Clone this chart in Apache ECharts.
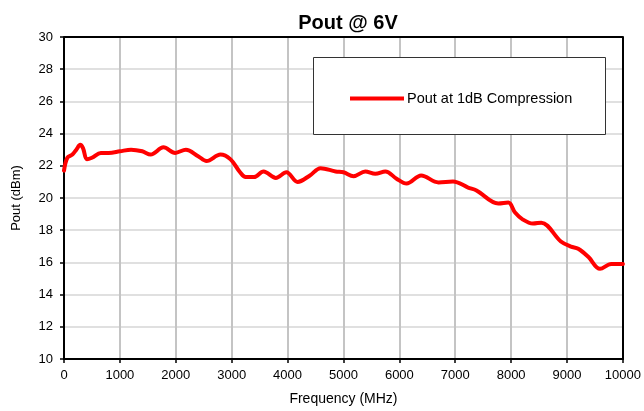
<!DOCTYPE html>
<html>
<head>
<meta charset="utf-8">
<script src="https://cdn.jsdelivr.net/npm/echarts@6/dist/echarts.min.js"></script>
<style>
    html, body { margin: 0; padding: 0; background: #fff; }
    #chart { width: 644px; height: 411px; }
</style>
</head>
<body>
<div id="chart"></div>
<script>
// frequency (MHz) and Pout (dBm)
var freq = [0, 60, 150, 220, 290, 340, 410, 500, 660, 800, 1000, 1200, 1400, 1550, 1780, 1990,
    2180, 2400, 2550, 2800, 2980, 3150, 3250, 3400, 3570, 3790, 3980, 4180, 4400, 4590, 4860,
    5000, 5180, 5390, 5570, 5750, 5950, 6130, 6390, 6700, 6960, 7230, 7380, 7770, 7950, 8070,
    8210, 8390, 8540, 8890, 9070, 9200, 9380, 9590, 9790, 10000];
var pout = [21.7, 22.5, 22.7, 23.0, 23.3, 23.1, 22.4, 22.5, 22.8, 22.8, 22.9, 23.0, 22.9, 22.7, 23.15, 22.8,
    23.0, 22.6, 22.3, 22.7, 22.4, 21.6, 21.3, 21.3, 21.65, 21.25, 21.6, 21.0, 21.4, 21.85, 21.65,
    21.6, 21.35, 21.65, 21.5, 21.65, 21.2, 20.9, 21.4, 20.97, 21.03, 20.65, 20.47, 19.66, 19.72, 19.1,
    18.66, 18.41, 18.47, 17.3, 16.98, 16.85, 16.35, 15.6, 15.9, 15.9];
var seriesName = 'Pout at 1dB Compression';

var chart = echarts.init(document.getElementById('chart'));
var font = 'Arial, "Liberation Sans", sans-serif';

var points = [];
for (var i = 0; i < freq.length; i++) {
    points.push([freq[i], pout[i]]);
}

var option = {
    animation: false,
    backgroundColor: '#fff',
    title: {
        text: 'Pout @ 6V',
        left: 343,
        textAlign: 'center',
        top: 8,
        textStyle: { fontFamily: font, fontSize: 20, fontWeight: 'bold', color: '#000' }
    },
    graphic: [{
        type: 'rect',
        left: 313, top: 57,
        shape: { width: 292, height: 77 },
        style: { fill: '#fff', stroke: '#333', lineWidth: 1 },
        z: 5
    }],
    legend: {
        data: [seriesName],
        left: 345, top: 86,
        icon: 'rect',
        itemWidth: 54, itemHeight: 4,
        itemGap: 0,
        z: 10,
        textStyle: { fontFamily: font, fontSize: 14.5, color: '#000', padding: [0, 0, 0, -2] }
    },
    grid: { left: 64, right: 19, top: 37, bottom: 52 },
    xAxis: {
        type: 'value',
        min: 0, max: 10000, interval: 1000,
        name: 'Frequency (MHz)',
        nameLocation: 'middle',
        nameGap: 33,
        nameTextStyle: { fontFamily: font, fontSize: 14, color: '#000' },
        axisLine: { show: true, onZero: false, lineStyle: { color: '#000', width: 2 } },
        axisTick: { show: true, length: 4, lineStyle: { color: '#000', width: 1.5 } },
        axisLabel: {
            fontFamily: font, fontSize: 13, color: '#000', margin: 10,
            formatter: function (v) { return String(v); }
        },
        splitLine: { show: true, lineStyle: { color: '#c4c4c4', width: 2 } }
    },
    yAxis: [{
        type: 'value',
        min: 10, max: 30, interval: 2,
        name: 'Pout (dBm)',
        nameLocation: 'middle',
        nameGap: 41,
        nameTextStyle: { fontFamily: font, fontSize: 13, color: '#000' },
        axisLine: { show: true, lineStyle: { color: '#000', width: 2 } },
        axisTick: { show: true, length: 4, lineStyle: { color: '#000', width: 1.5 } },
        axisLabel: { fontFamily: font, fontSize: 13, color: '#000', margin: 11 },
        splitLine: { show: true, lineStyle: { color: '#d6d6d6', width: 1.5 } }
    }, {
        // right frame edge
        type: 'value',
        position: 'right',
        min: 10, max: 30, interval: 2,
        axisLine: { show: true, lineStyle: { color: '#000', width: 2 } },
        axisTick: { show: false },
        axisLabel: { show: false },
        splitLine: { show: false }
    }],
    series: [{
        name: seriesName,
        type: 'line',
        data: points,
        smooth: 0.35,
        showSymbol: false,
        symbol: 'none',
        itemStyle: { color: '#ff0000' },
        lineStyle: { color: '#ff0000', width: 4, cap: 'round', join: 'round' }
    }, {
        // top frame edge
        type: 'line',
        data: [[0, 30], [10000, 30]],
        showSymbol: false,
        symbol: 'none',
        silent: true,
        lineStyle: { color: '#000', width: 2 },
        z: 1
    }]
};
chart.setOption(option);
</script>
</body>
</html>
